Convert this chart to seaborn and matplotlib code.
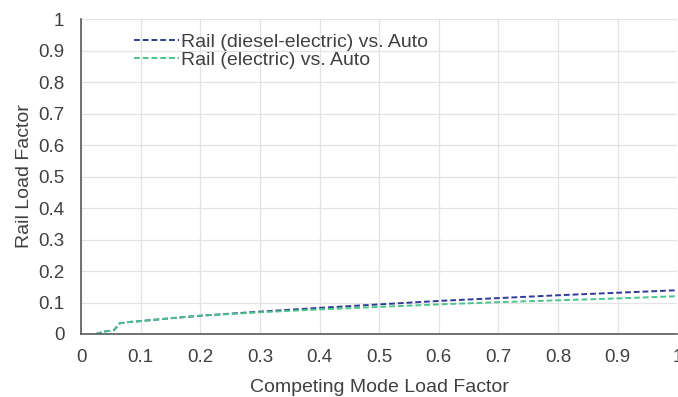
import numpy as np
import pandas as pd
import matplotlib
matplotlib.use("Agg")
import matplotlib.pyplot as plt
import seaborn as sns

# Competing mode load factor (x) and break-even rail load factor for each rail type
competing_lf = [0.025, 0.04, 0.055, 0.065, 0.08, 0.1, 0.15, 0.2, 0.3, 0.4, 0.5, 0.6, 0.7, 0.8, 0.9, 1.0]
rail_diesel = [0.0, 0.008, 0.012, 0.034, 0.038, 0.041, 0.050, 0.058, 0.071, 0.083, 0.094, 0.105, 0.114, 0.123, 0.131, 0.139]
rail_electric = [0.0, 0.008, 0.012, 0.034, 0.038, 0.041, 0.050, 0.058, 0.069, 0.078, 0.086, 0.094, 0.101, 0.107, 0.113, 0.120]

series_names = ["Rail (diesel-electric) vs. Auto", "Rail (electric) vs. Auto"]
series_colors = ["#2f3b97", "#4cc48c"]
tick_labels = ["0", "0.1", "0.2", "0.3", "0.4", "0.5", "0.6", "0.7", "0.8", "0.9", "1"]

df = pd.concat([
    pd.DataFrame({"x": competing_lf, "y": rail_diesel, "series": series_names[0]}),
    pd.DataFrame({"x": competing_lf, "y": rail_electric, "series": series_names[1]}),
])

sns.set_theme(style="whitegrid")
plt.rcParams["font.family"] = ["Liberation Sans", "DejaVu Sans"]

fig = plt.figure(figsize=(6.78, 3.97), dpi=100)
ax = fig.add_axes([0.1195, 0.1587, 0.8795, 0.7933])

dash = (0, (3, 1.5))
sns.lineplot(data=df, x="x", y="y", hue="series", hue_order=series_names,
             palette=series_colors, ax=ax, linewidth=1.4, sort=True)
for line in ax.get_lines():
    line.set_linestyle(dash)

ax.set_xlim(0, 1)
ax.set_ylim(0, 1)
ax.set_xticks(np.arange(0, 1.01, 0.1))
ax.set_yticks(np.arange(0, 1.01, 0.1))
ax.set_xticklabels(tick_labels)
ax.set_yticklabels(tick_labels)
ax.tick_params(axis="both", labelsize=13.5, colors="#404040", length=0)
ax.tick_params(axis="x", pad=11)
ax.tick_params(axis="y", pad=12)
ax.grid(True, color="#e3e3e3", linewidth=0.9)
for side in ["top", "right"]:
    ax.spines[side].set_visible(False)
for side in ["left", "bottom"]:
    ax.spines[side].set_color("#595959")
    ax.spines[side].set_linewidth(1.2)

ax.set_xlabel("Competing Mode Load Factor", fontsize=14, color="#404040", labelpad=9)
ax.set_ylabel("Rail Load Factor", fontsize=14, color="#404040", labelpad=4)

handles, labels = ax.get_legend_handles_labels()
for h in handles:
    h.set_linestyle(dash)
ax.legend(handles, labels, loc="upper left", bbox_to_anchor=(0.066, 0.997), frameon=False,
          fontsize=14, handlelength=2.3, handletextpad=0.12, labelspacing=0.0,
          borderpad=0.2, labelcolor="#404040")

fig.savefig("out.png", dpi=100)
